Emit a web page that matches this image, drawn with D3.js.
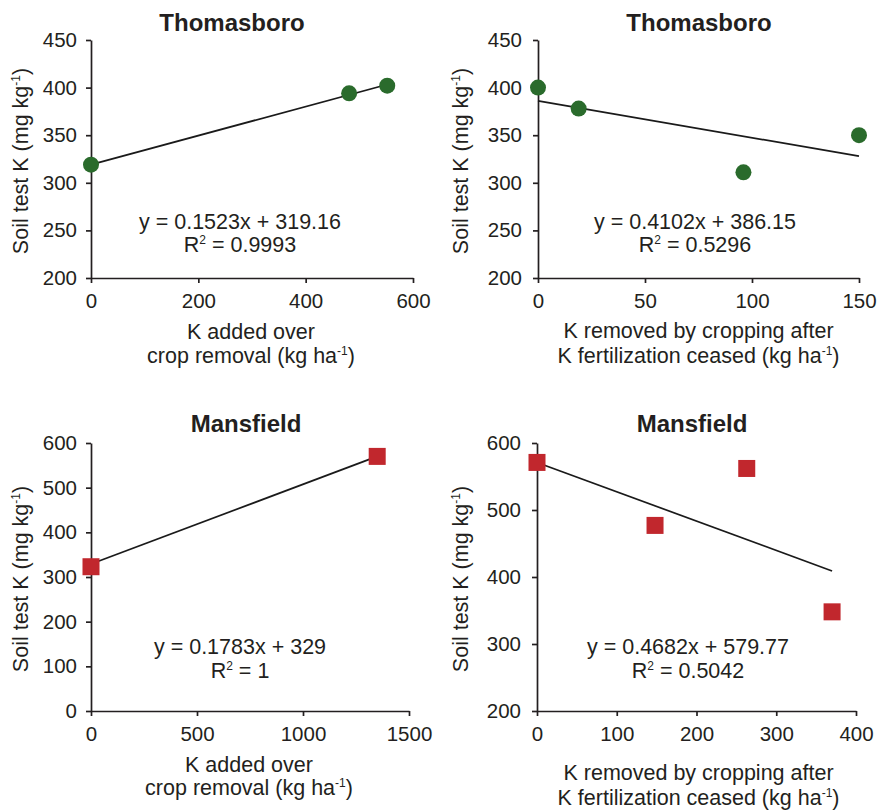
<!DOCTYPE html>
<html>
<head>
<meta charset="utf-8">
<script src="https://cdn.jsdelivr.net/npm/d3@7"></script>
<style>
  body { margin: 0; background: #fff; }
  text { font-family: "Liberation Sans", Arial, sans-serif; fill: #231f20; }
</style>
</head>
<body>
<svg id="chart"></svg>
<script>
// Thomasboro - K added over crop removal
const t1X = [0, 481, 552];
const t1Y = [319, 394, 402];
const t1TrendX = [0, 552];
const t1TrendY = [319.16, 403.2];
// Thomasboro - K removed after fertilization ceased
const t2X = [0, 19, 96, 150];
const t2Y = [400, 378, 311, 350];
const t2TrendX = [0, 150];
const t2TrendY = [386, 328];
// Mansfield - K added over crop removal
const m1X = [0, 1350];
const m1Y = [323, 570];
const m1TrendX = [0, 1350];
const m1TrendY = [329, 570];
// Mansfield - K removed after fertilization ceased
const m2X = [0, 148, 263, 370];
const m2Y = [571, 477, 562, 348];
const m2TrendX = [0, 370];
const m2TrendY = [571, 409];

const titles = ["Thomasboro", "Thomasboro", "Mansfield", "Mansfield"];
const equations = ["y = 0.1523x + 319.16", "y = 0.4102x + 386.15", "y = 0.1783x + 329", "y = 0.4682x + 579.77"];
const rSquared = ["0.9993", "0.5296", "1", "0.5042"];
const xTitleAdded = ["K added over", "crop removal (kg ha"];
const xTitleRemoved = ["K removed by cropping after", "K fertilization ceased (kg ha"];

const greenFill = "#2a6b2c";
const redFill = "#c1272d";

const svg = d3.select("#chart").attr("width", 878).attr("height", 811);

const panels = [
  { xs: t1X, ys: t1Y, tx: t1TrendX, ty: t1TrendY, xDom: [0, 600], xTicks: [0, 200, 400, 600],
    yDom: [200, 450], yTicks: [200, 250, 300, 350, 400, 450], marker: "circle", color: greenFill,
    left: 91, right: 413, top: 40, bottom: 278, titleX: 232, titleY: 31,
    eqX: 240, eqY: 229, r2Y: 252, ylabX: 28, xlab: xTitleAdded, xlabX: 251, xlabY: [339, 362.5] },
  { xs: t2X, ys: t2Y, tx: t2TrendX, ty: t2TrendY, xDom: [0, 150], xTicks: [0, 50, 100, 150],
    yDom: [200, 450], yTicks: [200, 250, 300, 350, 400, 450], marker: "circle", color: greenFill,
    left: 538, right: 859, top: 40, bottom: 278, titleX: 699, titleY: 31,
    eqX: 695, eqY: 229, r2Y: 252, ylabX: 468, xlab: xTitleRemoved, xlabX: 698.5, xlabY: [338, 363] },
  { xs: m1X, ys: m1Y, tx: m1TrendX, ty: m1TrendY, xDom: [0, 1500], xTicks: [0, 500, 1000, 1500],
    yDom: [0, 600], yTicks: [0, 100, 200, 300, 400, 500, 600], marker: "square", color: redFill,
    left: 91, right: 409, top: 443, bottom: 711, titleX: 246, titleY: 432,
    eqX: 240, eqY: 654, r2Y: 677.5, ylabX: 28, xlab: xTitleAdded, xlabX: 249, xlabY: [771.5, 795] },
  { xs: m2X, ys: m2Y, tx: m2TrendX, ty: m2TrendY, xDom: [0, 400], xTicks: [0, 100, 200, 300, 400],
    yDom: [200, 600], yTicks: [200, 300, 400, 500, 600], marker: "square", color: redFill,
    left: 537, right: 856, top: 443, bottom: 711, titleX: 692, titleY: 432,
    eqX: 688, eqY: 653.5, r2Y: 677.5, ylabX: 468, xlab: xTitleRemoved, xlabX: 698.5, xlabY: [780, 805] }
];

const labelSize = 21.5;

panels.forEach((p, i) => {
  const g = svg.append("g");
  const x = d3.scaleLinear().domain(p.xDom).range([p.left, p.right]);
  const y = d3.scaleLinear().domain(p.yDom).range([p.bottom, p.top]);

  // axes
  const xAxis = g.append("g")
    .attr("transform", `translate(0,${p.bottom})`)
    .call(d3.axisBottom(x).tickValues(p.xTicks).tickFormat(d3.format("d"))
      .tickSize(5).tickSizeOuter(0).tickPadding(10));
  const yAxis = g.append("g")
    .attr("transform", `translate(${p.left},0)`)
    .call(d3.axisLeft(y).tickValues(p.yTicks).tickFormat(d3.format("d"))
      .tickSize(5).tickSizeOuter(0).tickPadding(i % 2 ? 11 : 9));
  [xAxis, yAxis].forEach(a => {
    a.selectAll("path, line").attr("stroke", "#231f20").attr("stroke-width", 1.7);
    a.selectAll("text").attr("font-size", 20.5).attr("fill", "#231f20")
      .style("font-family", "'Liberation Sans', Arial, sans-serif");
  });

  // trend line
  const trend = p.tx.map((d, k) => [d, p.ty[k]]);
  g.append("path")
    .datum(trend)
    .attr("fill", "none")
    .attr("stroke", "#1a1a1a")
    .attr("stroke-width", 1.7)
    .attr("d", d3.line().x(d => x(d[0])).y(d => y(d[1])));

  // points
  const pts = p.xs.map((d, k) => [d, p.ys[k]]);
  if (p.marker === "circle") {
    g.selectAll(".pt").data(pts).enter()
      .append("circle")
      .attr("cx", d => x(d[0]))
      .attr("cy", d => y(d[1]))
      .attr("r", 8)
      .attr("fill", p.color);
  } else {
    const s = 17;
    g.selectAll(".pt").data(pts).enter()
      .append("rect")
      .attr("x", d => x(d[0]) - s / 2)
      .attr("y", d => y(d[1]) - s / 2)
      .attr("width", s)
      .attr("height", s)
      .attr("fill", p.color);
  }

  // title
  g.append("text")
    .attr("x", p.titleX).attr("y", p.titleY)
    .attr("text-anchor", "middle")
    .attr("font-size", 24)
    .attr("font-weight", "bold")
    .text(titles[i]);

  // equation + R2
  g.append("text")
    .attr("x", p.eqX).attr("y", p.eqY)
    .attr("text-anchor", "middle")
    .attr("font-size", labelSize)
    .text(equations[i]);
  const r2 = g.append("text")
    .attr("x", p.eqX).attr("y", p.r2Y)
    .attr("text-anchor", "middle")
    .attr("font-size", labelSize);
  r2.append("tspan").text("R");
  r2.append("tspan").attr("font-size", 12).attr("dy", -8).text("2");
  r2.append("tspan").attr("dy", 8).text(" = " + rSquared[i]);

  // y title
  const yl = g.append("text")
    .attr("transform", "rotate(-90)")
    .attr("x", -(p.top + p.bottom) / 2 - 2)
    .attr("y", p.ylabX)
    .attr("text-anchor", "middle")
    .attr("font-size", labelSize);
  yl.append("tspan").text("Soil test K (mg kg");
  yl.append("tspan").attr("font-size", 12).attr("dy", -8).text("-1");
  yl.append("tspan").attr("dy", 8).text(")");

  // x title, two lines
  g.append("text")
    .attr("x", p.xlabX).attr("y", p.xlabY[0])
    .attr("text-anchor", "middle")
    .attr("font-size", labelSize)
    .text(p.xlab[0]);
  const xl = g.append("text")
    .attr("x", p.xlabX).attr("y", p.xlabY[1])
    .attr("text-anchor", "middle")
    .attr("font-size", labelSize);
  xl.append("tspan").text(p.xlab[1]);
  xl.append("tspan").attr("font-size", 12).attr("dy", -8).text("-1");
  xl.append("tspan").attr("dy", 8).text(")");
});
</script>
</body>
</html>
